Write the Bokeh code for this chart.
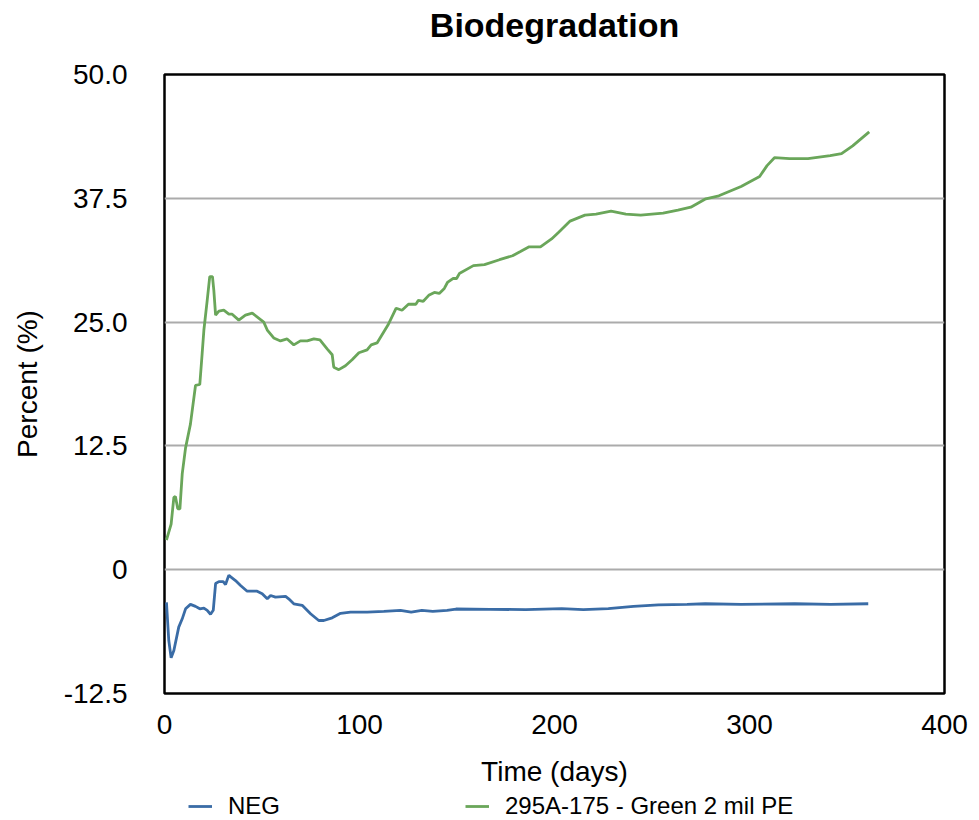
from bokeh.plotting import figure
from bokeh.models import Range1d, FixedTicker, Legend, LegendItem, Label
from bokeh.layouts import column
from bokeh.embed import file_html
from bokeh.resources import INLINE

# ---- data ----
days_neg = [1, 2.2, 3.4, 4.8, 7.3, 9.1, 10.8, 13.3, 15.9, 18.1,
            20.2, 21.9, 23.6, 25, 26.2, 27.9, 30.1, 31.3, 33, 33.8,
            36.4, 39, 42.4, 47.5, 50.1, 52.7, 54.4, 56.9, 62.1, 63.7,
            66.3, 70.6, 74.9, 79.1, 81.7, 86, 90.3, 95.4, 103.9, 112.5,
            121, 126.5, 132, 137.6, 144.9, 149.5, 167, 185.3, 203.7, 214.8,
            227.6, 240.5, 253.3, 268, 277.3, 295.6, 323.2, 341.6, 360.9]
pct_neg = [-3.3, -7.15, -8.9, -8.16, -5.8, -4.96, -3.95, -3.5, -3.7, -3.95,
           -3.88, -4.1, -4.5, -4.1, -1.4, -1.2, -1.2, -1.5, -0.55, -0.7,
           -1.1, -1.6, -2.17, -2.17, -2.43, -2.94, -2.6, -2.77, -2.7, -2.94,
           -3.44, -3.6, -4.45, -5.13, -5.13, -4.86, -4.4, -4.29, -4.29, -4.2,
           -4.1, -4.29, -4.1, -4.2, -4.1, -3.97, -4.0, -4.03, -3.94, -4.03,
           -3.94, -3.7, -3.55, -3.5, -3.44, -3.5, -3.44, -3.5, -3.44]

days_pe = [1, 3.4, 4.8, 5.6, 6.8, 7.9, 9.1, 10.8, 13.3, 15.9,
           18.1, 19.3, 20.2, 21.9, 23.2, 24.6, 25.3, 26.2, 27.9, 30.4,
           33, 34.7, 38.1, 41.5, 45, 50.9, 52.7, 56, 59.5, 62.9,
           66.3, 69.7, 73.2, 76.6, 79.7, 83.4, 86, 86.8, 89.4, 92.8,
           96.2, 99.7, 103.9, 106, 109, 114.6, 118.8, 121.8, 125.1, 128.9,
           130.2, 132.7, 135.5, 138.4, 140.9, 143.5, 145.1, 147.9, 149.8, 151.2,
           158.4, 164.1, 171.8, 178.5, 182.3, 187, 192.8, 198.5, 202.3, 208,
           215.6, 221.3, 229, 236.6, 244.2, 255.7, 263.3, 269.9, 277.6, 284.3,
           295.7, 305.2, 309, 312.8, 320.5, 330, 341.4, 347.2, 352.9, 361.4]
pct_pe = [3.0, 4.6, 7.3, 7.4, 6.15, 6.15, 9.7, 12.3, 14.7, 18.6,
          18.7, 21.8, 24.2, 27.2, 29.6, 29.6, 28.2, 25.7, 26.1, 26.2,
          25.8, 25.8, 25.2, 25.7, 25.9, 25.0, 24.2, 23.4, 23.1, 23.3,
          22.7, 23.1, 23.1, 23.3, 23.2, 22.3, 21.7, 20.45, 20.2, 20.6,
          21.2, 21.9, 22.2, 22.7, 22.9, 24.7, 26.4, 26.2, 26.8, 26.8,
          27.2, 27.1, 27.7, 28.0, 27.9, 28.4, 29.0, 29.4, 29.4, 29.9,
          30.7, 30.8, 31.3, 31.7, 32.1, 32.6, 32.6, 33.4, 34.1, 35.2,
          35.8, 35.9, 36.2, 35.9, 35.8, 36.0, 36.3, 36.6, 37.45, 37.75,
          38.7, 39.7, 40.8, 41.6, 41.5, 41.5, 41.8, 42.0, 42.8, 44.2]

chart_title = "Biodegradation"
series_labels = ["NEG", "295A-175 - Green 2 mil PE"]
x_ticks = [0, 100, 200, 300, 400]
y_ticks = [-12.5, 0, 12.5, 25, 37.5, 50]
y_tick_labels = ["-12.5", "0", "12.5", "25.0", "37.5", "50.0"]

FONT = "Liberation Sans"
BLUE = "#3A6CA6"
GREEN = "#6AA65A"


def strip(height):
    f = figure(width=979, height=height, output_backend="svg", toolbar_location=None,
               x_range=Range1d(0, 1), y_range=Range1d(0, height),
               min_border=0, min_border_left=0, min_border_right=0,
               min_border_top=0, min_border_bottom=0)
    f.axis.visible = False
    f.grid.visible = False
    f.outline_line_color = None
    return f


# ---- title strip ----
t = strip(54)
t.add_layout(Label(x=0.5, y=30, text=chart_title, text_align="center",
                   text_baseline="alphabetic", text_font=FONT,
                   text_font_size="34px", text_font_style="bold",
                   text_color="black"))

# ---- main chart ----
p = figure(width=979, height=738, output_backend="svg", toolbar_location=None,
           x_range=Range1d(0, 400), y_range=Range1d(-12.5, 50),
           min_border_left=164, min_border_right=35,
           min_border_top=20, min_border_bottom=99)

p.outline_line_color = "black"
p.outline_line_width = 2.5
p.outline_line_alpha = 1.0

p.xgrid.visible = False
p.ygrid.ticker = FixedTicker(ticks=y_ticks)
p.ygrid.grid_line_color = "#ABABAB"
p.ygrid.grid_line_width = 2

p.xaxis.ticker = FixedTicker(ticks=x_ticks)
p.yaxis.ticker = FixedTicker(ticks=y_ticks)
p.yaxis.major_label_overrides = {t_: l for t_, l in zip(y_ticks, y_tick_labels)}

for ax in (p.xaxis[0], p.yaxis[0]):
    ax.axis_line_color = None
    ax.major_tick_line_color = None
    ax.minor_tick_line_color = None
    ax.major_tick_in = 0
    ax.major_tick_out = 0
    ax.major_label_text_font = FONT
    ax.major_label_text_font_size = "28px"
    ax.major_label_text_color = "black"
    ax.axis_label_text_font = FONT
    ax.axis_label_text_font_size = "28px"
    ax.axis_label_text_font_style = "normal"
    ax.axis_label_text_color = "black"

p.xaxis.axis_label = "Time (days)"
p.xaxis.major_label_standoff = 21
p.xaxis.axis_label_standoff = 19
p.yaxis.axis_label = "Percent (%)"
p.yaxis.major_label_standoff = 37
p.yaxis.axis_label_standoff = 18

p.line(days_neg, pct_neg, line_color=BLUE, line_width=2.8)
p.line(days_pe, pct_pe, line_color=GREEN, line_width=2.8)

# ---- legend strip ----
q = strip(28)
# keys only: their points lie outside the strip's range, so only the legend shows them
k_neg = q.line(x=[-2, -1], y=[-2, -1], line_color=BLUE, line_width=2.8)
k_pe = q.line(x=[-2, -1], y=[-2, -1], line_color=GREEN, line_width=2.8)

legend = Legend(items=[LegendItem(label=series_labels[0], renderers=[k_neg]),
                       LegendItem(label=series_labels[1], renderers=[k_pe])],
                orientation="horizontal", location=(24, 0),
                padding=0, margin=0, spacing=0,
                glyph_width=24, glyph_height=20, label_standoff=16,
                label_width=237, label_text_font=FONT,
                label_text_font_size="24px", label_text_color="black",
                border_line_color=None, background_fill_alpha=0)
q.add_layout(legend)

layout = column(t, p, q, spacing=0)
open("out.html", "w").write(file_html(layout, INLINE))
